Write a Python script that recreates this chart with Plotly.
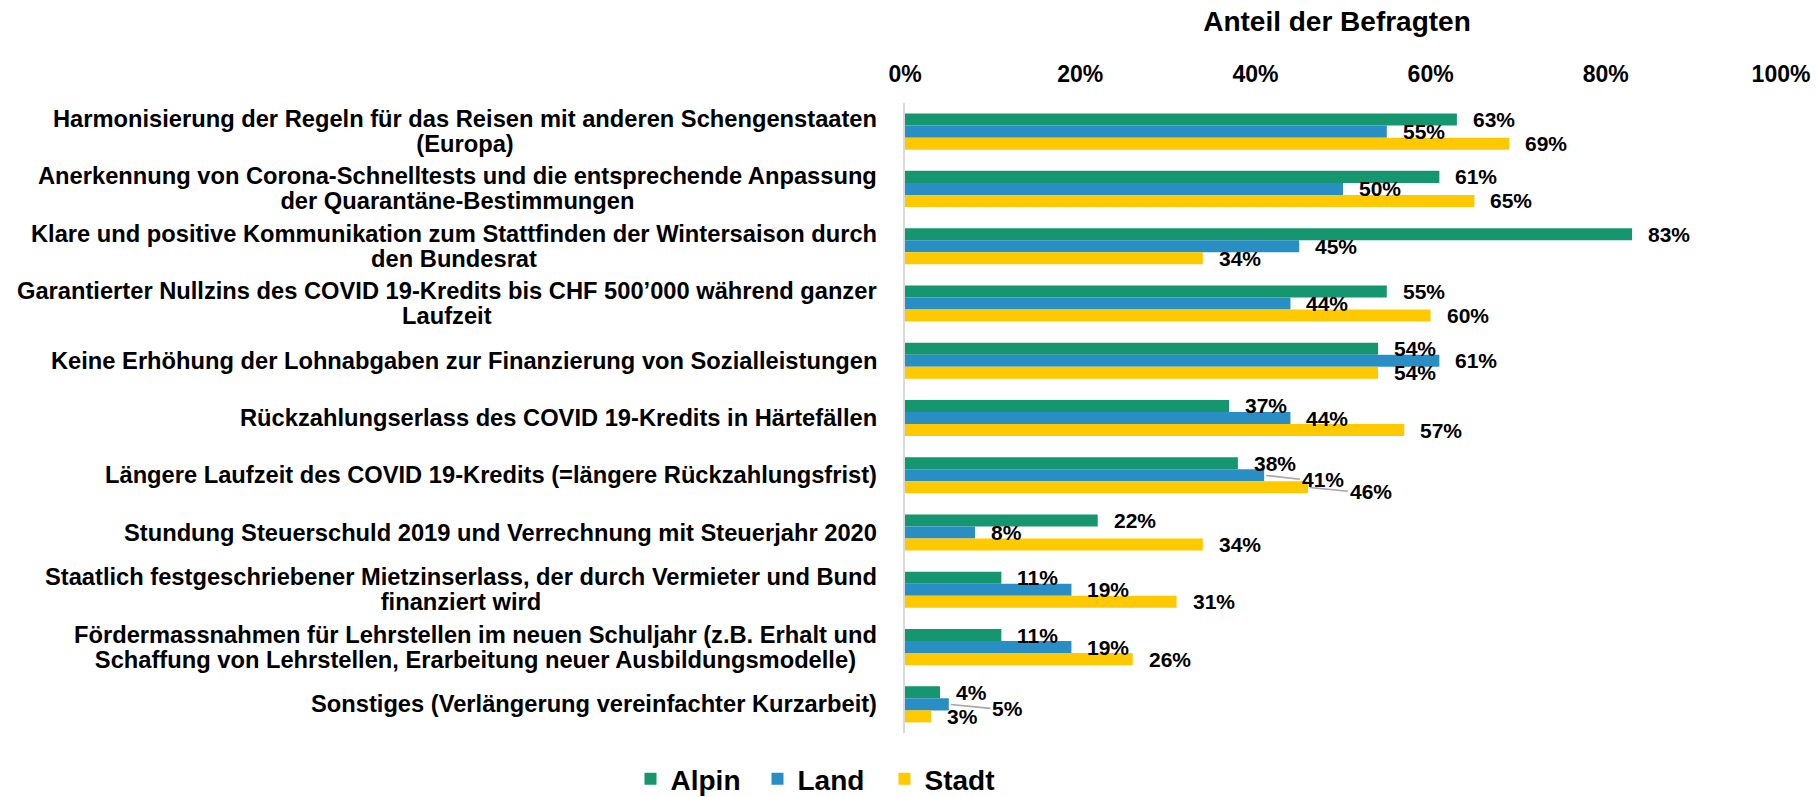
import plotly.graph_objects as go

categories = [
    "Harmonisierung der Regeln für das Reisen mit anderen Schengenstaaten<br>(Europa)",
    "Anerkennung von Corona-Schnelltests und die entsprechende Anpassung<br>der Quarantäne-Bestimmungen",
    "Klare und positive Kommunikation zum Stattfinden der Wintersaison durch<br>den Bundesrat",
    "Garantierter Nullzins des COVID 19-Kredits bis CHF 500’000 während ganzer<br>Laufzeit",
    "Keine Erhöhung der Lohnabgaben zur Finanzierung von Sozialleistungen",
    "Rückzahlungserlass des COVID 19-Kredits in Härtefällen",
    "Längere Laufzeit des COVID 19-Kredits (=längere Rückzahlungsfrist)",
    "Stundung Steuerschuld 2019 und Verrechnung mit Steuerjahr 2020",
    "Staatlich festgeschriebener Mietzinserlass, der durch Vermieter und Bund<br>finanziert wird",
    "Fördermassnahmen für Lehrstellen im neuen Schuljahr (z.B. Erhalt und<br>Schaffung von Lehrstellen, Erarbeitung neuer Ausbildungsmodelle)",
    "Sonstiges (Verlängerung vereinfachter Kurzarbeit)",
]

alpin = [0.63, 0.61, 0.83, 0.55, 0.54, 0.37, 0.38, 0.22, 0.11, 0.11, 0.04]
land = [0.55, 0.50, 0.45, 0.44, 0.61, 0.44, 0.41, 0.08, 0.19, 0.19, 0.05]
stadt = [0.69, 0.65, 0.34, 0.60, 0.54, 0.57, 0.46, 0.34, 0.31, 0.26, 0.03]

series_names = ["Alpin", "Land", "Stadt"]
series_colors = ["#15966E", "#298EC4", "#FFC900"]

tick_vals = [0, 0.2, 0.4, 0.6, 0.8, 1.0]
tick_text = ["0%", "20%", "40%", "60%", "80%", "100%"]

FONT = "Liberation Sans, Arial, sans-serif"

W, H = 1816, 797
M_L, M_R, M_T, M_B = 905, 35, 103, 64
BARGAP = 0.37
LABEL_SIZE = 21
LABEL_PAD = 14

plot_w = W - M_L - M_R
cat_px = (H - M_T - M_B) / len(categories)
bar_px = cat_px * (1 - BARGAP) / 3


def label_width(txt):
    # approximate Arial-bold width of a "NN%" label
    return LABEL_SIZE * (0.556 * (len(txt) - 1) + 0.889)


fig = go.Figure()
all_series = [alpin, land, stadt]
for name, vals, color in zip(series_names, all_series, series_colors):
    fig.add_trace(go.Bar(
        name=name,
        y=categories,
        x=vals,
        orientation="h",
        marker=dict(color=color, line=dict(width=0)),
        hoverinfo="skip",
    ))

# data labels, nudged right (with a leader line) when they would collide
for j, cat in enumerate(categories):
    prev = None
    for i, vals in enumerate(all_series):
        v = vals[j]
        txt = f"{round(v*100)}%"
        wlab = label_width(txt)
        end_px = v * plot_w
        start = end_px + LABEL_PAD
        shifted = False
        if prev is not None and start < prev[1] + 4 and start + wlab > prev[0]:
            start = prev[1] + 6
            shifted = True
        prev = (start, start + wlab)
        yshift = (1 - i) * bar_px
        font = dict(family=FONT, size=LABEL_SIZE, color="#000000", weight="bold")
        if shifted:
            fig.add_annotation(
                x=v, xref="x", y=cat, yref="y", text=txt,
                showarrow=True, arrowhead=0, arrowwidth=1.6, arrowcolor="#A6A6A6",
                ax=start - end_px, ay=4, axref="pixel", ayref="pixel",
                xanchor="left", yanchor="middle", yshift=yshift, standoff=2,
                font=font,
            )
        else:
            fig.add_annotation(
                x=v, xref="x", y=cat, yref="y", text=txt, showarrow=False,
                xanchor="left", yanchor="middle", xshift=LABEL_PAD, yshift=yshift,
                font=font,
            )

for cat in categories:
    lines = cat.split("<br>")
    txt = "<br>".join(f"<span style='font-size:23.7px'>{ln}</span>" for ln in lines)
    fig.add_annotation(
        x=0, xref="paper", y=cat, yref="y",
        text=txt, showarrow=False,
        xanchor="right", yanchor="middle", align="center",
        xshift=-26,
        font=dict(family=FONT, size=19.6, color="#000000", weight="bold"),
    )

fig.update_layout(
    width=W, height=H,
    margin=dict(l=M_L, r=M_R, t=M_T, b=M_B),
    paper_bgcolor="white", plot_bgcolor="white",
    barmode="group", bargap=BARGAP, bargroupgap=0,
    title=dict(
        text="Anteil der Befragten",
        x=1337/1816, xanchor="center", xref="container",
        y=1-21/797, yanchor="middle", yref="container",
        font=dict(family=FONT, size=28, color="#000000", weight="bold"),
    ),
    xaxis=dict(
        side="top", range=[0, 1], tickvals=tick_vals, ticktext=tick_text,
        showgrid=False, zeroline=False, showline=False, ticks="",
        tickfont=dict(family=FONT, size=23, color="#000000", weight="bold"),
        ticklabelstandoff=15, automargin=False,
    ),
    yaxis=dict(
        autorange="reversed", showticklabels=False, showgrid=False,
        zeroline=False, showline=True, linecolor="#D9D9D9", linewidth=2,
        ticks="", automargin=False,
    ),
    legend=dict(
        orientation="h", xref="container", x=821/1816, xanchor="center",
        yref="container", y=1-779/797, yanchor="middle",
        font=dict(family=FONT, size=28, color="#000000", weight="bold"),
        traceorder="normal", itemwidth=30, entrywidth=82, entrywidthmode="pixels",
    ),
)

fig.write_html(
    "out.html",
    config={"displayModeBar": False},
    post_script="document.body.style.margin='0';document.body.style.overflow='hidden';",
)
